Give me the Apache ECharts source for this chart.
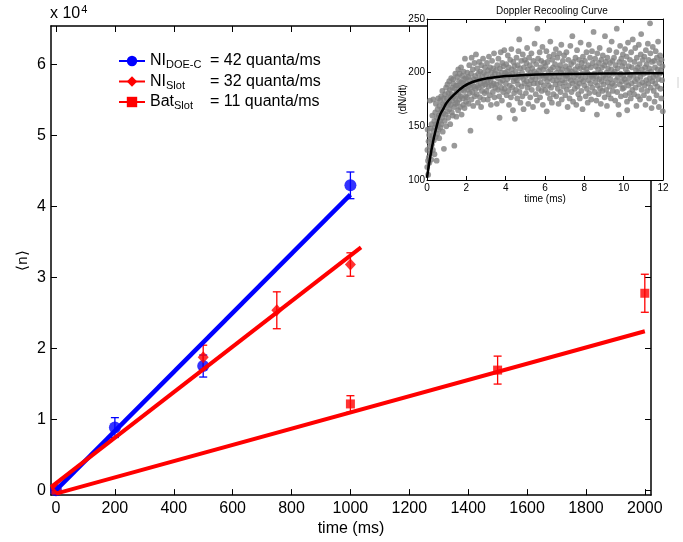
<!DOCTYPE html>
<html><head><meta charset="utf-8">
<script src="https://cdn.jsdelivr.net/npm/echarts@6/dist/echarts.min.js"></script>
<style>html,body{margin:0;padding:0;background:#fff}#c{width:683px;height:542px}</style>
</head><body><div id="c"></div>
<script>
// ---------- tick labels ----------
const xTickVals = [0, 200, 400, 600, 800, 1000, 1200, 1400, 1600, 1800, 2000];
const yTickVals = [0, 10000, 20000, 30000, 40000, 50000, 60000];
const insetXTicks = [0, 2, 4, 6, 8, 10, 12];
const insetYTicks = [100, 150, 200, 250];

// ---------- legend ----------
const seriesNames = ['NI_DOE-C', 'NI_Slot', 'Bat_Slot'];
const legendMain = ['NI', 'NI', 'Bat'];
const legendSub = ['DOE-C', 'Slot', 'Slot'];
const rates = [42, 32, 11];

// ---------- main data (time ms, <n>, error) ----------
const tNIDOE = [0, 200, 500, 1000];
const nNIDOE = [0, 8820, 17490, 42960];
const eNIDOE = [0, 1400, 1550, 1880];

const tNISlot = [0, 500, 750, 1000];
const nNISlot = [300, 18730, 25350, 31800];
const eNISlot = [0, 1700, 2600, 1650];

const tBat = [0, 1000, 1500, 2000];
const nBat = [0, 12150, 16920, 27750];
const eBat = [0, 1160, 1970, 2680];

// fitted lines (endpoints)
const fitNIDOE = [[0, 0], [1000, 41640]];
const fitNISlot = [[-17, 414], [1036, 34220]];
const fitBat = [[0, -500], [2000, 22400]];

// ---------- inset: fitted curve ----------
const curveT = [0, 0.15, 0.3, 0.45, 0.65, 0.85, 1, 1.35, 1.85, 2.35, 3, 4, 5, 6.25, 8, 10, 12];
const curveY = [102, 120, 135, 147, 160, 167, 172, 179, 187, 191.5, 194.5, 196.8, 197.8, 198.5, 199, 199.3, 199.4];

// ---------- inset: measured points (time ms, dN/dt) ----------
const insetScatter = [
[0.01,112],[0.02,128],[0.03,147],[0.05,118],[0.06,105],[0.08,136],[0.09,121],[0.11,142],[0.12,116],[0.14,131],[0.15,174],[0.17,125],[0.18,148],[0.20,138],[0.22,119],[0.23,152],[0.25,133],[0.27,160],[0.28,141],[0.30,128],[0.32,175],[0.33,146],[0.35,137],[0.37,155],[0.38,124],[0.40,149],[0.42,163],[0.44,140],[0.45,171],[0.47,152],[0.49,118],
[0.51,158],[0.52,143],[0.54,166],[0.55,151],[0.57,176],[0.59,147],[0.60,160],[0.62,139],[0.63,169],[0.65,155],[0.67,174],[0.68,149],[0.70,163],[0.72,178],[0.73,152],[0.75,166],[0.77,158],[0.78,183],[0.80,145],[0.82,171],[0.83,162],[0.85,176],[0.86,129],[0.88,168],[0.90,155],[0.92,180],[0.93,171],[0.95,161],[0.97,186],[0.98,150],
[1.01,176],[1.03,164],[1.04,189],[1.06,170],[1.08,158],[1.09,181],[1.11,173],[1.13,192],[1.14,166],[1.16,184],[1.18,152],[1.19,177],[1.21,170],[1.23,195],[1.24,180],[1.26,163],[1.28,186],[1.29,174],[1.31,160],[1.33,190],[1.34,194],[1.36,178],[1.38,168],[1.39,132],[1.41,185],[1.43,176],[1.44,199],[1.46,171],[1.48,188],[1.49,159],
[1.51,182],[1.53,196],[1.54,172],[1.56,188],[1.58,165],[1.59,203],[1.61,180],[1.63,192],[1.64,175],[1.66,199],[1.68,168],[1.69,186],[1.71,178],[1.73,205],[1.74,191],[1.76,161],[1.78,184],[1.79,197],[1.81,176],[1.83,190],[1.84,170],[1.86,201],[1.88,183],[1.89,194],[1.91,167],[1.93,213],[1.94,186],[1.96,178],[1.98,195],[1.99,173],
[2.01,190],[2.03,177],[2.05,200],[2.07,184],[2.09,196],[2.11,171],[2.13,188],[2.15,207],[2.17,181],[2.19,193],[2.21,146],[2.22,186],[2.24,199],[2.26,175],[2.27,214],[2.29,190],[2.31,182],[2.33,203],[2.35,169],[2.37,194],[2.39,187],[2.41,209],[2.43,178],[2.45,197],[2.47,185],[2.49,217],
[2.51,193],[2.53,180],[2.55,204],[2.57,188],[2.59,172],[2.61,199],[2.63,186],[2.65,210],[2.67,194],[2.69,177],[2.71,201],[2.73,190],[2.75,168],[2.77,207],[2.79,183],[2.81,196],[2.83,188],[2.85,213],[2.87,175],[2.89,200],[2.91,192],[2.93,181],[2.95,205],[2.97,189],
[3.01,198],[3.03,183],[3.05,209],[3.07,191],[3.09,175],[3.11,202],[3.13,187],[3.15,215],[3.17,195],[3.19,179],[3.21,205],[3.23,192],[3.25,170],[3.27,200],[3.29,188],[3.31,211],[3.33,196],[3.35,182],[3.37,204],[3.39,190],[3.41,218],[3.43,177],[3.45,199],[3.47,186],
[3.51,202],[3.53,189],[3.55,171],[3.57,207],[3.59,195],[3.61,184],[3.63,213],[3.65,198],[3.67,178],[3.69,158],[3.71,204],[3.73,191],[3.75,219],[3.77,186],[3.79,200],[3.81,174],[3.83,209],[3.85,193],[3.87,182],[3.89,206],[3.91,197],[3.93,221],[3.95,185],[3.97,200],
[4.01,190],[4.03,208],[4.05,179],[4.07,201],[4.09,194],[4.11,216],[4.13,183],[4.15,205],[4.17,170],[4.19,198],[4.21,188],[4.23,212],[4.25,196],[4.27,177],[4.29,222],[4.31,203],[4.33,186],[4.35,199],[4.37,165],[4.39,210],[4.41,192],[4.43,181],[4.45,206],[4.47,157],[4.49,195],
[4.51,201],[4.53,184],[4.55,214],[4.57,193],[4.59,176],[4.61,207],[4.63,189],[4.65,220],[4.67,198],[4.69,231],[4.71,182],[4.73,204],[4.75,172],[4.77,196],[4.79,211],[4.81,187],[4.83,200],[4.85,178],[4.87,217],[4.89,194],[4.91,166],[4.93,205],[4.95,190],[4.97,212],
[5.01,197],[5.03,181],[5.05,209],[5.07,192],[5.09,223],[5.11,186],[5.13,203],[5.15,171],[5.17,198],[5.19,214],[5.21,189],[5.23,207],[5.25,177],[5.27,200],[5.29,193],[5.31,218],[5.33,184],[5.35,204],[5.37,196],[5.39,168],[5.41,211],[5.43,190],[5.45,201],[5.47,227],
[5.51,194],[5.53,180],[5.55,208],[5.57,199],[5.59,174],[5.61,241],[5.63,190],[5.65,213],[5.67,185],[5.69,202],[5.71,196],[5.73,219],[5.75,177],[5.77,205],[5.79,191],[5.81,211],[5.83,183],[5.85,198],[5.87,224],[5.89,170],[5.91,203],[5.93,188],[5.95,209],[5.97,195],
[6.01,184],[6.03,206],[6.05,197],[6.07,220],[6.09,164],[6.11,192],[6.13,210],[6.15,181],[6.17,201],[6.19,188],[6.21,215],[6.23,195],[6.25,176],[6.27,229],[6.29,203],[6.31,186],[6.33,199],[6.35,172],[6.37,212],[6.39,193],[6.41,205],[6.43,180],[6.45,217],[6.47,197],
[6.51,208],[6.53,189],[6.55,222],[6.57,178],[6.59,200],[6.61,193],[6.63,214],[6.65,185],[6.67,204],[6.69,171],[6.71,196],[6.73,218],[6.75,190],[6.77,207],[6.79,182],[6.81,200],[6.83,226],[6.85,175],[6.87,203],[6.89,193],[6.91,211],[6.93,187],[6.95,198],[6.97,216],
[7.01,191],[7.03,179],[7.05,206],[7.07,197],[7.09,219],[7.11,184],[7.13,202],[7.15,168],[7.17,195],[7.19,212],[7.21,188],[7.23,204],[7.25,176],[7.27,199],[7.29,225],[7.31,193],[7.33,208],[7.35,182],[7.37,201],[7.39,234],[7.41,190],[7.43,173],[7.45,210],[7.47,196],
[7.51,185],[7.53,203],[7.55,214],[7.57,192],[7.59,170],[7.61,199],[7.63,221],[7.65,187],[7.67,206],[7.69,180],[7.71,197],[7.73,212],[7.75,190],[7.77,176],[7.79,204],[7.81,228],[7.83,194],[7.85,183],[7.87,209],[7.89,199],[7.91,166],[7.93,215],[7.95,192],[7.97,205],
[8.01,188],[8.03,211],[8.05,196],[8.07,178],[8.09,203],[8.11,219],[8.13,185],[8.15,200],[8.17,172],[8.19,207],[8.21,193],[8.23,226],[8.25,181],[8.27,198],[8.29,214],[8.31,190],[8.33,205],[8.35,175],[8.37,197],[8.39,220],[8.41,186],[8.43,209],[8.45,195],[8.47,238],
[8.51,199],[8.53,182],[8.55,213],[8.57,191],[8.59,206],[8.61,174],[8.63,196],[8.64,161],[8.66,218],[8.68,188],[8.70,203],[8.72,180],[8.74,209],[8.76,194],[8.78,223],[8.80,185],[8.82,200],[8.84,171],[8.86,212],[8.88,192],[8.90,205],[8.92,183],[8.94,216],[8.96,197],[8.98,189],
[9.01,207],[9.03,177],[9.05,234],[9.07,195],[9.09,210],[9.11,184],[9.13,200],[9.15,169],[9.17,214],[9.19,191],[9.21,204],[9.23,180],[9.25,198],[9.27,221],[9.29,187],[9.31,209],[9.33,194],[9.35,176],[9.37,203],[9.39,229],[9.41,190],[9.43,211],[9.45,183],[9.47,199],
[9.51,214],[9.53,188],[9.55,201],[9.57,174],[9.59,207],[9.61,193],[9.63,219],[9.65,241],[9.67,182],[9.69,204],[9.71,196],[9.73,170],[9.76,161],[9.78,210],[9.80,189],[9.82,225],[9.84,199],[9.86,178],[9.88,213],[9.90,192],[9.92,206],[9.94,185],[9.96,217],[9.98,197],
[10.01,186],[10.03,209],[10.05,194],[10.07,222],[10.09,179],[10.11,203],[10.13,191],[10.15,215],[10.17,173],[10.18,165],[10.20,200],[10.22,228],[10.24,188],[10.26,206],[10.28,195],[10.30,181],[10.32,212],[10.34,198],[10.36,176],[10.38,219],[10.40,190],[10.42,205],[10.44,184],[10.46,231],
[10.51,197],[10.53,180],[10.55,210],[10.57,192],[10.59,223],[10.61,186],[10.63,202],[10.65,169],[10.67,214],[10.69,194],[10.71,205],[10.73,178],[10.75,200],[10.77,226],[10.79,189],[10.81,208],[10.83,175],[10.85,196],[10.87,217],[10.89,236],[10.91,184],[10.93,203],[10.95,191],[10.97,212],
[11.01,199],[11.03,179],[11.05,215],[11.07,188],[11.09,205],[11.11,170],[11.13,221],[11.15,193],[11.17,208],[11.19,183],[11.21,200],[11.23,227],[11.25,190],[11.27,212],[11.29,176],[11.31,204],[11.33,195],[11.34,246],[11.36,218],[11.38,186],[11.40,201],[11.42,167],[11.44,210],[11.46,192],[11.48,224],
[11.51,196],[11.53,183],[11.55,211],[11.57,173],[11.59,205],[11.61,190],[11.63,220],[11.65,198],[11.67,179],[11.69,214],[11.71,187],[11.73,203],[11.75,229],[11.77,194],[11.79,168],[11.81,209],[11.83,199],[11.85,216],[11.87,185],[11.89,202],[11.91,176],[11.93,212],[11.95,193],[11.97,206],[11.99,164]
];

// ---------- build ----------
const FONT = '"Liberation Sans", Arial, sans-serif';
const BLUE = '#0000ff', RED = '#ff0000';
const chart = echarts.init(document.getElementById('c'), null, {renderer: 'canvas'});

function errSeries(ts, ns, es, color) {
  const data = [];
  ts.forEach((t, i) => { if (es[i] > 0) data.push([t, ns[i] - es[i], ns[i] + es[i]]); });
  return {
    type: 'custom', xAxisIndex: 0, yAxisIndex: 0, data: data, silent: true,
    encode: {x: 0, y: [1, 2]},
    renderItem: function (params, api) {
      const lo = api.coord([api.value(0), api.value(1)]);
      const hi = api.coord([api.value(0), api.value(2)]);
      const w = 4;
      const st = {stroke: color, lineWidth: 1.3};
      return {type: 'group', children: [
        {type: 'line', shape: {x1: lo[0], y1: lo[1], x2: hi[0], y2: hi[1]}, style: st},
        {type: 'line', shape: {x1: lo[0] - w, y1: lo[1], x2: lo[0] + w, y2: lo[1]}, style: st},
        {type: 'line', shape: {x1: hi[0] - w, y1: hi[1], x2: hi[0] + w, y2: hi[1]}, style: st}
      ]};
    }
  };
}
function pts(ts, ns) { return ts.map((t, i) => [t, ns[i]]); }

const mainAxisCommon = {
  type: 'value', gridIndex: 0,
  axisLine: {show: true, onZero: false, lineStyle: {color: '#000', width: 1.5}},
  axisTick: {show: true, inside: true, length: 6, lineStyle: {color: '#000', width: 1}},
  splitLine: {show: false}
};
const insetAxisCommon = {
  type: 'value', gridIndex: 1, z: 11,
  axisLine: {show: true, onZero: false, lineStyle: {color: '#000', width: 1}},
  axisTick: {show: true, inside: true, length: 4, lineStyle: {color: '#000', width: 1}},
  splitLine: {show: false}
};

const option = {
  animation: false,
  backgroundColor: '#fff',
  title: [
    {text: '{a|x 10}{b|4}', left: 50, top: 4, padding: 0,
     textStyle: {fontFamily: FONT, fontWeight: 'normal', color: '#000', fontSize: 16,
       rich: {a: {fontFamily: FONT, fontSize: 16, color: '#000'},
              b: {fontFamily: FONT, fontSize: 11, color: '#000', padding: [0, 0, 9, 1]}}}},
    {text: 'Doppler Recooling Curve', left: 496, top: 6, padding: 0,
     textStyle: {fontFamily: FONT, fontWeight: 'normal', color: '#000', fontSize: 10}}
  ],
  legend: {
    data: seriesNames, orient: 'vertical', left: 113, top: 48,
    itemWidth: 26, itemHeight: 13, itemGap: 3, selectedMode: false,
    lineStyle: {width: 2},
    formatter: function (name) {
      const i = seriesNames.indexOf(name);
      const sub = legendMain[i].length > 2 ? 's36' : 's44';
      return '{m|' + legendMain[i] + '}{' + sub + '|' + legendSub[i] + '}{m|= ' + rates[i] + ' quanta/ms}';
    },
    textStyle: {fontFamily: FONT, color: '#000', fontSize: 16,
      rich: {
        m: {fontFamily: FONT, fontSize: 16, color: '#000'},
        s44: {fontFamily: FONT, fontSize: 11, color: '#000', width: 44, padding: [8, 0, 0, 0]},
        s36: {fontFamily: FONT, fontSize: 11, color: '#000', width: 36, padding: [8, 0, 0, 0]}
      }}
  },
  grid: [
    {left: 51, top: 26, width: 600, height: 470, containLabel: false},
    {left: 427, top: 19, width: 236, height: 161, show: true, backgroundColor: '#fff', borderWidth: 0, z: 10}
  ],
  xAxis: [
    Object.assign({}, mainAxisCommon, {position: 'bottom', min: -17, max: 2021,
      name: 'time (ms)', nameLocation: 'middle', nameGap: 23,
      nameTextStyle: {fontFamily: FONT, fontSize: 16, color: '#000'},
      axisTick: Object.assign({}, mainAxisCommon.axisTick, {customValues: xTickVals}),
      axisLabel: {show: true, customValues: xTickVals, margin: 5, fontFamily: FONT, fontSize: 16, color: '#000',
        formatter: v => String(v)}}),
    Object.assign({}, mainAxisCommon, {position: 'top', min: -17, max: 2021,
      axisTick: Object.assign({}, mainAxisCommon.axisTick, {customValues: xTickVals}),
      axisLabel: {show: false}}),
    Object.assign({}, insetAxisCommon, {position: 'bottom', min: 0, max: 12, interval: 2,
      name: 'time (ms)', nameLocation: 'middle', nameGap: 14,
      nameTextStyle: {fontFamily: FONT, fontSize: 10, color: '#000'},
      axisTick: Object.assign({}, insetAxisCommon.axisTick, {customValues: insetXTicks}),
      axisLabel: {show: true, customValues: insetXTicks, margin: 3, fontFamily: FONT, fontSize: 10, color: '#000'}}),
    Object.assign({}, insetAxisCommon, {position: 'top', min: 0, max: 12, interval: 2,
      axisTick: Object.assign({}, insetAxisCommon.axisTick, {customValues: insetXTicks}),
      axisLabel: {show: false}})
  ],
  yAxis: [
    Object.assign({}, mainAxisCommon, {position: 'left', min: -700, max: 65420,
      name: '\u27E8n\u27E9', nameLocation: 'middle', nameGap: 21, nameRotate: 90, nameMoveOverlap: false,
      nameTextStyle: {fontFamily: FONT, fontSize: 15, color: '#000'},
      axisTick: Object.assign({}, mainAxisCommon.axisTick, {customValues: yTickVals}),
      axisLabel: {show: true, customValues: yTickVals, margin: 5, fontFamily: FONT, fontSize: 16, color: '#000',
        formatter: v => String(Math.round(v / 10000))}}),
    Object.assign({}, mainAxisCommon, {position: 'right', min: -700, max: 65420,
      axisTick: Object.assign({}, mainAxisCommon.axisTick, {customValues: yTickVals}),
      axisLabel: {show: false}}),
    Object.assign({}, insetAxisCommon, {position: 'left', min: 100, max: 250, interval: 50,
      name: '\u27E8dN/dt\u27E9', nameLocation: 'middle', nameGap: 19, nameRotate: 90, nameMoveOverlap: false,
      nameTextStyle: {fontFamily: FONT, fontSize: 10, color: '#000'},
      axisTick: Object.assign({}, insetAxisCommon.axisTick, {customValues: insetYTicks}),
      axisLabel: {show: true, customValues: insetYTicks, margin: 2, fontFamily: FONT, fontSize: 10, color: '#000'}}),
    Object.assign({}, insetAxisCommon, {position: 'right', min: 100, max: 250, interval: 50,
      axisTick: Object.assign({}, insetAxisCommon.axisTick, {customValues: insetYTicks}),
      axisLabel: {show: false}})
  ],
  series: [
    errSeries(tNIDOE, nNIDOE, eNIDOE, BLUE),
    {type: 'scatter', xAxisIndex: 0, yAxisIndex: 0, data: pts(tNIDOE, nNIDOE), symbol: 'circle', symbolSize: 12,
     itemStyle: {color: BLUE}, silent: true},
    {name: seriesNames[0], type: 'line', xAxisIndex: 0, yAxisIndex: 0, data: fitNIDOE, symbol: 'circle', showSymbol: false,
     lineStyle: {color: BLUE, width: 4.5}, itemStyle: {color: BLUE}, silent: true},

    errSeries(tNISlot, nNISlot, eNISlot, RED),
    {type: 'scatter', xAxisIndex: 0, yAxisIndex: 0, data: pts(tNISlot, nNISlot), symbol: 'diamond', symbolSize: [11, 12],
     itemStyle: {color: RED}, silent: true},
    {name: seriesNames[1], type: 'line', xAxisIndex: 0, yAxisIndex: 0, data: fitNISlot, symbol: 'diamond', showSymbol: false,
     lineStyle: {color: RED, width: 4}, itemStyle: {color: RED}, silent: true},

    errSeries(tBat, nBat, eBat, RED),
    {type: 'scatter', xAxisIndex: 0, yAxisIndex: 0, data: pts(tBat, nBat), symbol: 'rect', symbolSize: 9,
     itemStyle: {color: RED}, silent: true},
    {name: seriesNames[2], type: 'line', xAxisIndex: 0, yAxisIndex: 0, data: fitBat, symbol: 'rect', showSymbol: false,
     lineStyle: {color: RED, width: 4}, itemStyle: {color: RED}, silent: true},

    {type: 'scatter', xAxisIndex: 2, yAxisIndex: 2, z: 12, data: insetScatter, symbol: 'circle', symbolSize: 5.8,
     itemStyle: {color: '#808080'}, silent: true, large: false},
    {type: 'line', xAxisIndex: 2, yAxisIndex: 2, z: 13, data: curveT.map((t, i) => [t, curveY[i]]), smooth: 0.4,
     showSymbol: false, lineStyle: {color: '#000', width: 2.5}, silent: true}
  ],
  graphic: [
    {type: 'line', shape: {x1: 678, y1: 77, x2: 678, y2: 88}, style: {stroke: '#d0d0d0', lineWidth: 1}, silent: true}
  ]
};
chart.setOption(option);
</script>
</body></html>
